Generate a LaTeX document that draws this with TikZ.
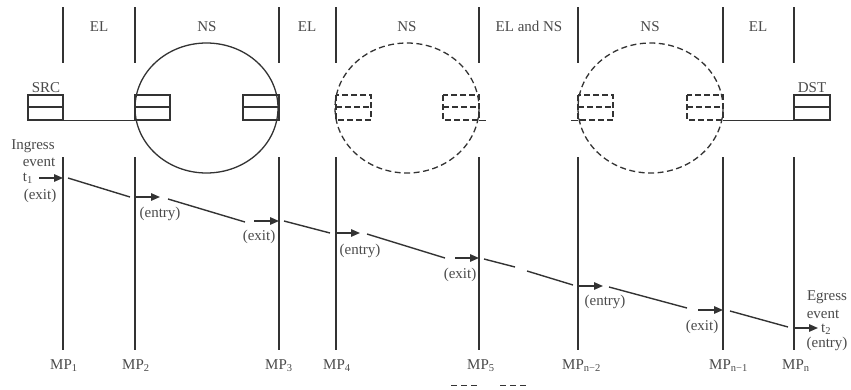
\documentclass[tikz,border=0pt]{standalone}
\usepackage{fontspec}
\setmainfont{Liberation Serif}
\usetikzlibrary{arrows.meta}
\definecolor{ink}{HTML}{333333}
\definecolor{txt}{HTML}{4A4A4A}
\begin{document}
\begin{tikzpicture}[x=1pt,y=-1pt,
  every node/.style={font=\fontsize{15}{16}\selectfont, text=txt, inner sep=0pt},
  mpline/.style={draw=ink, line width=1.7pt},
  region/.style={draw=ink, line width=1.3pt},
  regiondash/.style={region, dash pattern=on 6pt off 3.5pt},
  queue/.style={draw=ink, line width=1.3pt},
  queuedash/.style={queue, dash pattern=on 6pt off 3pt},
  link/.style={draw=ink, line width=0.9pt},
  track/.style={draw=ink, line width=1.4pt},
  hop/.style={draw=ink, line width=1.4pt, -{Triangle[length=9pt,width=7.5pt]}},
  lbl/.style={anchor=base},
]
\useasboundingbox (0,0) rectangle (851,389);

% measurement point lines
\foreach \x in {63,135,279,336,479,578,723,794} {
  \draw[mpline] (\x,7) -- (\x,63);
  \draw[mpline] (\x,157) -- (\x,350);
}

% segment labels
\node[lbl] (l1) at (99,31) {EL};
\node[lbl] (l2) at (207,31) {NS};
\node[lbl] (l3) at (307,31) {EL};
\node[lbl] (l4) at (407,31) {NS};
\node[lbl] (l5) at (529,31) {EL and NS};
\node[lbl] (l6) at (650,31) {NS};
\node[lbl] (l7) at (758,31) {EL};

% network segments
\draw[region] (206.5,108) ellipse [x radius=71.5, y radius=65];
\draw[regiondash] (407,108) ellipse [x radius=72, y radius=65];
\draw[regiondash] (650.5,108) ellipse [x radius=72.5, y radius=65];

% queues
\draw[queue] (28,95) rectangle (63,120) (28,107) -- (63,107);
\draw[queue] (135,95) rectangle (170,120) (135,107) -- (170,107);
\draw[queue] (243,95) rectangle (279,120) (243,107) -- (279,107);
\draw[queue] (794,95) rectangle (830,120) (794,107) -- (830,107);
\draw[queuedash] (336,95) rectangle (371,120) (336,107) -- (371,107);
\draw[queuedash] (443,95) rectangle (479,120) (443,107) -- (479,107);
\draw[queuedash] (578,95) rectangle (613,120) (578,107) -- (613,107);
\draw[queuedash] (687,95) rectangle (723,120) (687,107) -- (723,107);

\node[lbl] (src) at (46,92) {SRC};
\node[lbl] (dst) at (812,92) {DST};

% links
\draw[link] (63,120) -- (135,120);
\draw[link] (723,120) -- (794,120);
\draw[link] (479,120) -- (486,120);
\draw[link] (571,120) -- (578,120);

% packet timeline
\draw[hop] (39,178) -- (63,178);
\draw[track] (68,178) -- (130,197);
\draw[hop] (135,197) -- (160,197);
\draw[track] (168,199) -- (245,222);
\draw[hop] (254,221) -- (279,221);
\draw[track] (284,221) -- (330,233);
\draw[hop] (336,233) -- (360,233);
\draw[track] (367,234) -- (445,258);
\draw[hop] (455,258) -- (479,258);
\draw[track] (484,259) -- (515,267);
\draw[track] (527,271) -- (573,285);
\draw[hop] (578,286) -- (603,286);
\draw[track] (609,287) -- (687,308);
\draw[hop] (698,310) -- (723,310);
\draw[track] (730,311) -- (788,327);
\draw[hop] (794,328) -- (818,328);

% event labels
\node (ing1) at (33,146) {Ingress};
\node (ing2) at (39,162) {event};
\node[anchor=east] (ing3) at (33,178) {t\textsubscript{1}};
\node (ing4) at (40,196) {(exit)};
\node (e2) at (160,214) {(entry)};
\node (x3) at (259,237) {(exit)};
\node (e4) at (360,251) {(entry)};
\node (x5) at (460,275) {(exit)};
\node (e6) at (605,302) {(entry)};
\node (x7) at (702,327) {(exit)};
\node (eg1) at (827,297) {Egress};
\node (eg2) at (823,314) {event};
\node[anchor=west] (eg3) at (821,329) {t\textsubscript{2}};
\node (eg4) at (827,344) {(entry)};

% measurement point names
\node[anchor=base west] (mp1) at (50,369) {MP\textsubscript{1}};
\node[anchor=base west] (mp2) at (122,369) {MP\textsubscript{2}};
\node[anchor=base west] (mp3) at (265,369) {MP\textsubscript{3}};
\node[anchor=base west] (mp4) at (323,369) {MP\textsubscript{4}};
\node[anchor=base west] (mp5) at (467,369) {MP\textsubscript{5}};
\node[anchor=base west] (mp6) at (562,369) {MP\textsubscript{n−2}};
\node[anchor=base west] (mp7) at (709,369) {MP\textsubscript{n−1}};
\node[anchor=base west] (mp8) at (782,369) {MP\textsubscript{n}};

% dashed edges along the lower border
\draw[ink, line width=1pt, dash pattern=on 6pt off 4pt] (451,385) -- (478,385);
\draw[ink, line width=1pt, dash pattern=on 6pt off 4pt] (500,385) -- (527,385);
\end{tikzpicture}
\end{document}
